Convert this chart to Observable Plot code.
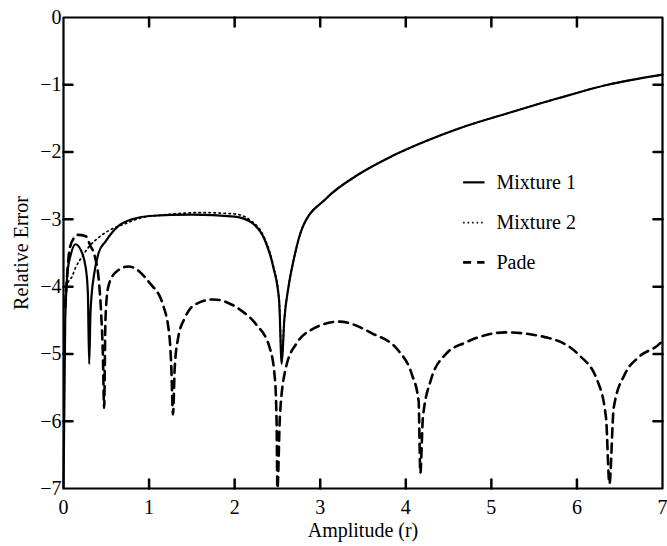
<!DOCTYPE html>
<html>
<head>
<meta charset="utf-8">
<script src="https://cdn.jsdelivr.net/npm/d3@7"></script>
<script src="https://cdn.jsdelivr.net/npm/@observablehq/plot@0.6"></script>
<style>
  html, body { margin: 0; padding: 0; background: #fff; }
  svg { display: block; }
</style>
</head>
<body>
<div id="chart"></div>
<script>
// Mixture 1 (solid)
const mix1X = [0, 0.02, 0.05, 0.08, 0.14, 0.2, 0.26, 0.285, 0.30, 0.315, 0.33, 0.36, 0.41, 0.49, 0.64, 0.8, 1.0, 1.5, 2.0, 2.2, 2.35, 2.45, 2.52, 2.55, 2.58, 2.63, 2.69, 2.79, 3.07, 3.45, 3.84, 4.23, 4.62, 5.2, 5.78, 6.36, 7.0];
const mix1Y = [-7, -4.5, -3.75, -3.55, -3.37, -3.45, -3.72, -4.1, -5.15, -4.4, -4.1, -3.8, -3.5, -3.33, -3.1, -3.0, -2.95, -2.93, -2.96, -3.05, -3.3, -3.7, -4.21, -5.15, -4.5, -4.0, -3.6, -3.13, -2.69, -2.33, -2.06, -1.84, -1.65, -1.42, -1.2, -1.0, -0.85];

// Mixture 2 (dotted)
const mix2X = [0, 0.05, 0.1, 0.14, 0.22, 0.29, 0.41, 0.57, 0.69, 0.9, 1.2, 1.6, 2.0, 2.2, 2.35, 2.45, 2.52, 2.55, 2.58, 2.63, 2.69, 2.79, 3.07, 3.45, 3.84, 4.23, 4.62, 5.2, 5.78, 6.36, 7.0];
const mix2Y = [-4.3, -3.95, -3.85, -3.72, -3.55, -3.42, -3.27, -3.14, -3.08, -2.98, -2.93, -2.9, -2.92, -3.03, -3.28, -3.68, -4.2, -5.1, -4.5, -4.0, -3.6, -3.13, -2.69, -2.33, -2.06, -1.84, -1.65, -1.42, -1.2, -1.0, -0.85];

// Pade (dashed)
const padeX = [0.02, 0.07, 0.12, 0.17, 0.26, 0.31, 0.37, 0.41, 0.44, 0.46, 0.475, 0.49, 0.52, 0.6, 0.76, 1.01, 1.16, 1.24, 1.26, 1.28, 1.30, 1.34, 1.42, 1.51, 1.75, 2.06, 2.25, 2.41, 2.47, 2.49, 2.5, 2.53, 2.6, 2.72, 2.87, 3.22, 3.6, 3.92, 4.07, 4.15, 4.17, 4.20, 4.29, 4.47, 4.7, 5.16, 5.66, 6.01, 6.24, 6.34, 6.38, 6.43, 6.56, 6.71, 6.98, 7.0];
const padeY = [-4.3, -3.45, -3.28, -3.23, -3.25, -3.38, -3.57, -3.87, -4.4, -5.0, -5.8, -4.5, -4.02, -3.8, -3.7, -3.95, -4.26, -4.76, -5.2, -5.9, -5.2, -4.76, -4.46, -4.29, -4.19, -4.34, -4.56, -4.91, -5.36, -6.0, -7.0, -5.9, -5.2, -4.85, -4.66, -4.52, -4.69, -4.96, -5.3, -5.7, -6.77, -5.95, -5.4, -5.0, -4.83, -4.68, -4.76, -5.0, -5.4, -5.95, -6.93, -5.8, -5.3, -5.06, -4.83, -4.8];

const xTicks = [0, 1, 2, 3, 4, 5, 6, 7];
const yTicks = [0, -1, -2, -3, -4, -5, -6, -7];
const seriesNames = ["Mixture 1", "Mixture 2", "Pade"];

const toRows = (xs, ys) => xs.map((x, i) => ({x, y: ys[i]}));
const mix1 = toRows(mix1X, mix1Y);
const mix2 = toRows(mix2X, mix2Y);
const pade = toRows(padeX, padeY);

const styles = [
  {stroke: "#000", strokeWidth: 2.2},
  {stroke: "#000", strokeWidth: 1.7, strokeDasharray: "1.5,3.5"},
  {stroke: "#000", strokeWidth: 2.6, strokeDasharray: "9,6"}
];

// legend placement (data units)
const legendX1 = 4.67, legendX2 = 4.92, legendTextX = 5.06;
const legendY = [-2.45, -3.05, -3.64];
const legendRows = seriesNames.map((name, i) => ({name, y: legendY[i], i}));

const W = 667, H = 546, mL = 63, mR = 5, mT = 17, mB = 58;
const xDomain = [0, 7], yDomain = [-7, 0];
const tickPx = 9;
const tickLenX = tickPx * (xDomain[1] - xDomain[0]) / (W - mL - mR);
const tickLenY = tickPx * (yDomain[1] - yDomain[0]) / (H - mT - mB);
const innerX = xTicks.filter(d => d > xDomain[0] && d < xDomain[1]);
const innerY = yTicks.filter(d => d > yDomain[0] && d < yDomain[1]);

// box outline and inward tick segments, built from the domains and tick lists
const box = [
  {x: xDomain[0], y: yDomain[0]}, {x: xDomain[1], y: yDomain[0]},
  {x: xDomain[1], y: yDomain[1]}, {x: xDomain[0], y: yDomain[1]},
  {x: xDomain[0], y: yDomain[0]}
];
const tickPts = [];
innerX.forEach((d, i) => {
  tickPts.push({id: "b" + i, x: d, y: yDomain[0]}, {id: "b" + i, x: d, y: yDomain[0] + tickLenY});
  tickPts.push({id: "t" + i, x: d, y: yDomain[1]}, {id: "t" + i, x: d, y: yDomain[1] - tickLenY});
});
innerY.forEach((d, i) => {
  tickPts.push({id: "l" + i, x: xDomain[0], y: d}, {id: "l" + i, x: xDomain[0] + tickLenX, y: d});
  tickPts.push({id: "r" + i, x: xDomain[1], y: d}, {id: "r" + i, x: xDomain[1] - tickLenX, y: d});
});

const font = "'Liberation Serif', 'Times New Roman', Times, serif";

const chart = Plot.plot({
  width: W,
  height: H,
  marginLeft: mL,
  marginRight: mR,
  marginTop: mT,
  marginBottom: mB,
  style: {fontFamily: font, fontSize: "20px", color: "#000", background: "#fff", overflow: "visible"},
  x: {domain: xDomain},
  y: {domain: yDomain},
  marks: [
    Plot.line(pade, {x: "x", y: "y", curve: "monotone-x", ...styles[2]}),
    Plot.line(mix2, {x: "x", y: "y", curve: "monotone-x", ...styles[1]}),
    Plot.line(mix1, {x: "x", y: "y", curve: "monotone-x", ...styles[0]}),
    // legend
    ...legendRows.map(r => Plot.link([r], {x1: legendX1, x2: legendX2, y1: "y", y2: "y", ...styles[r.i], strokeDasharray: r.i === 1 ? "1.5,3" : r.i === 2 ? "8,6" : null})),
    Plot.text(legendRows, {x: legendTextX, y: "y", text: "name", textAnchor: "start", fontSize: 20, fill: "#000"}),
    // box and inward ticks as paths
    Plot.line(tickPts, {x: "x", y: "y", z: "id", stroke: "#000", strokeWidth: 2.5}),
    Plot.line(box, {x: "x", y: "y", stroke: "#000", strokeWidth: 2.2}),
    Plot.axisX({ticks: xTicks, tickSize: 0, tickPadding: 11, tickFormat: d => String(d), label: "Amplitude (r)", labelAnchor: "center", labelOffset: 48, labelArrow: "none", fontSize: 20}),
    Plot.axisY({ticks: yTicks, tickSize: 0, tickPadding: 2, tickFormat: d => d === 0 ? "0" : "\u2212" + Math.abs(d), label: "Relative Error", labelAnchor: "center", labelOffset: 50, labelArrow: "none", fontSize: 20})
  ]
});
document.getElementById("chart").appendChild(chart);
</script>
</body>
</html>
